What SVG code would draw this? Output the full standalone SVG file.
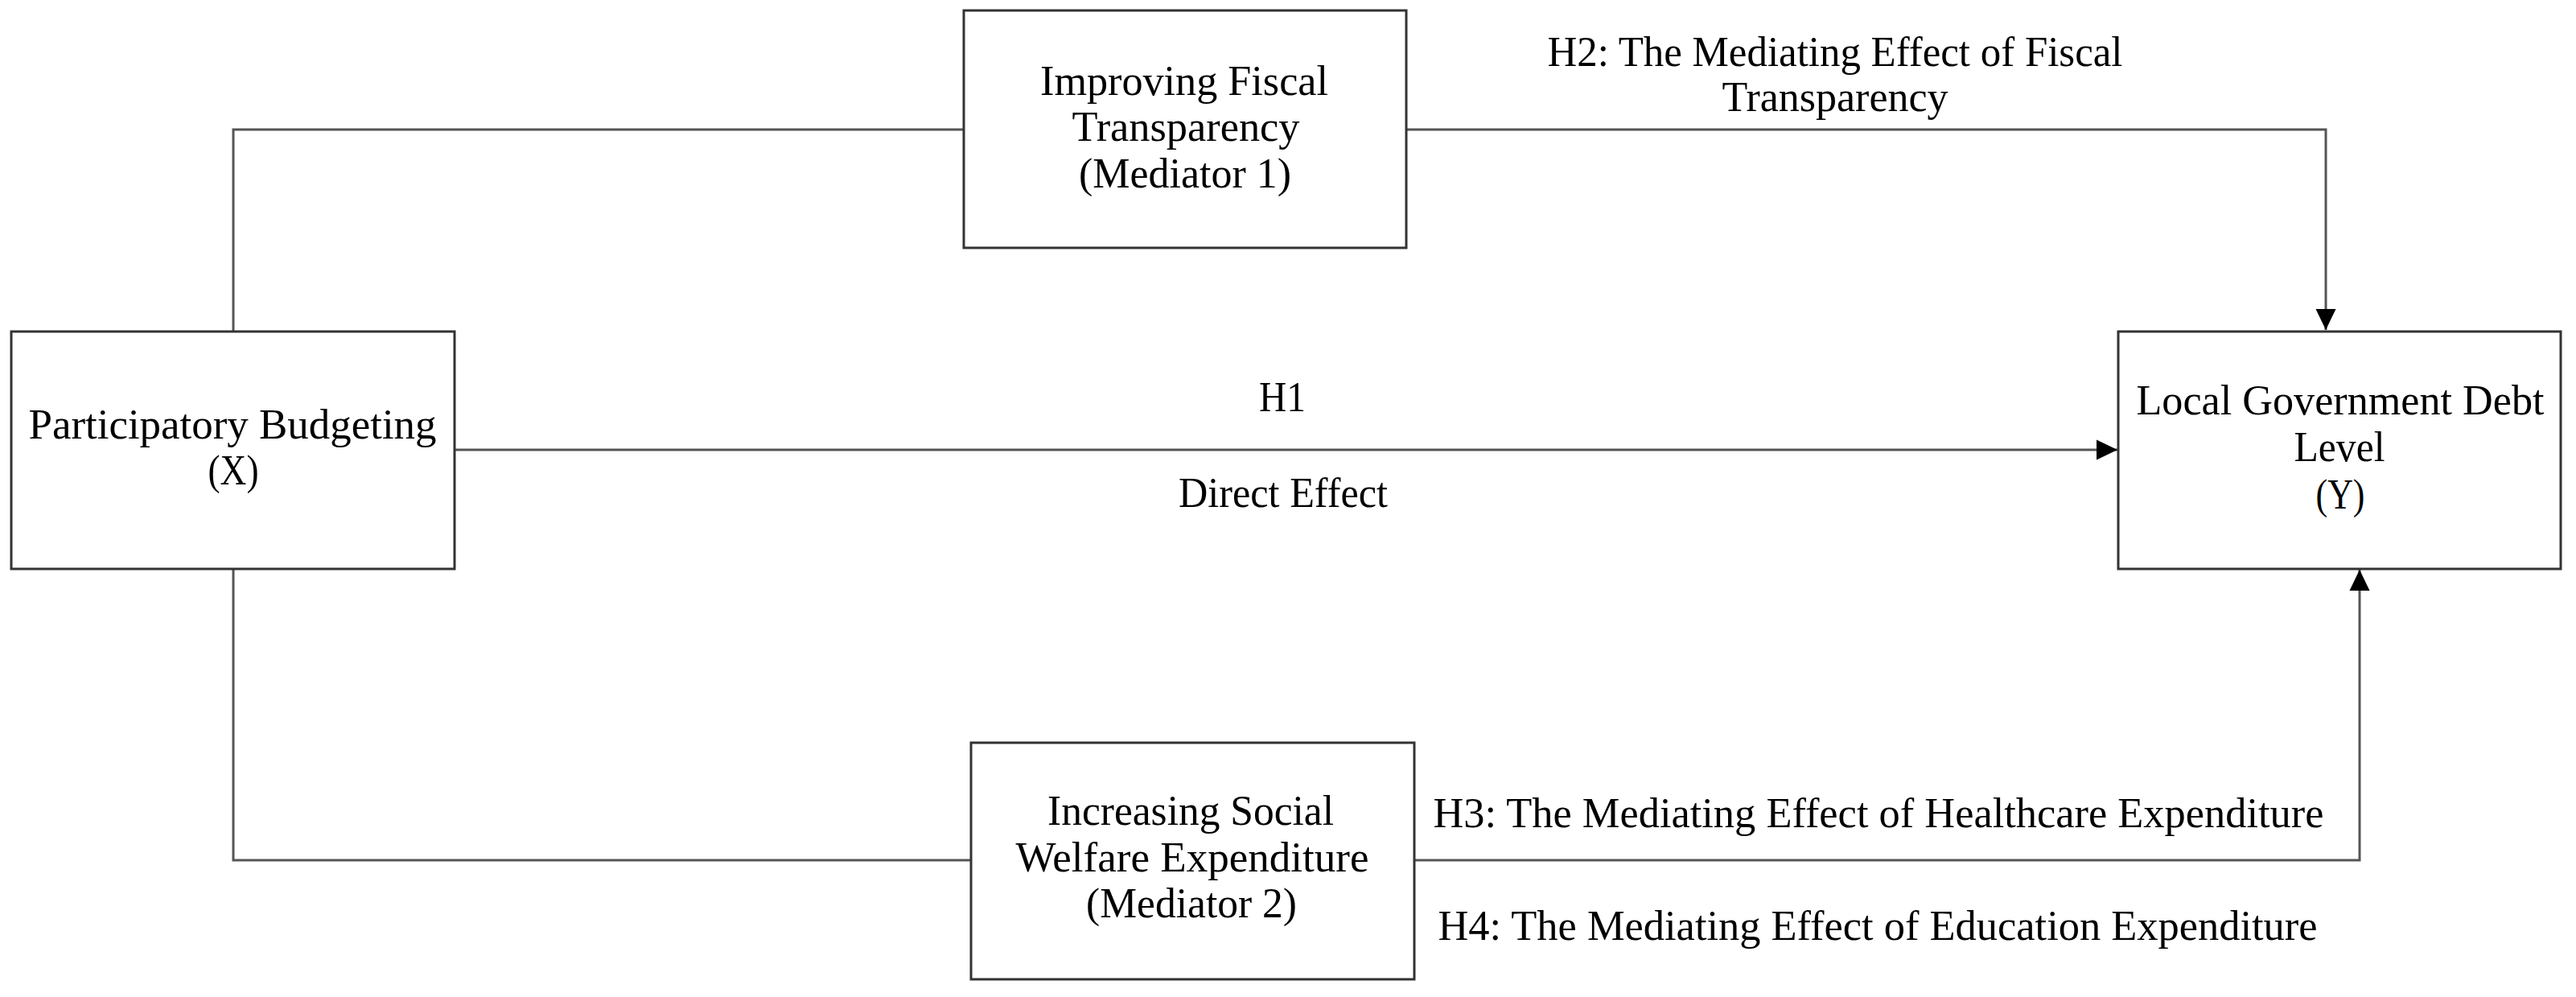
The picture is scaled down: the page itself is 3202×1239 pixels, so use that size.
<svg xmlns="http://www.w3.org/2000/svg" width="3202" height="1239" viewBox="0 0 3202 1239">
<style>
.box{fill:#fff;stroke:#333;stroke-width:3}
.conn{fill:none;stroke:#555;stroke-width:3}
text{font-family:"Liberation Serif","Times New Roman",serif;font-size:52px;fill:#000;text-anchor:middle}
</style>
<defs>
<marker id="arr" markerUnits="userSpaceOnUse" markerWidth="26" markerHeight="26" refX="26" refY="12.5" orient="auto" viewBox="0 0 26 25">
<path d="M0,0 L26,12.5 L0,25 z" fill="#000"/>
</marker>
</defs>
<rect width="3202" height="1239" fill="#fff"/>
<g id="connectors">
<path class="conn" d="M290,412 V161 H1198"/>
<path class="conn" d="M1748,161 H2891 V410" marker-end="url(#arr)"/>
<path class="conn" d="M565,559 H2632" marker-end="url(#arr)"/>
<path class="conn" d="M290,707 V1069 H1207"/>
<path class="conn" d="M1758,1069 H2933 V708" marker-end="url(#arr)"/>
<text x="1594" y="511" textLength="58" lengthAdjust="spacingAndGlyphs">H1</text>
<text x="1595" y="630" textLength="260" lengthAdjust="spacingAndGlyphs">Direct Effect</text>
<text x="2281" y="82" textLength="715" lengthAdjust="spacingAndGlyphs">H2: The Mediating Effect of Fiscal</text>
<text x="2281" y="138" textLength="281" lengthAdjust="spacingAndGlyphs">Transparency</text>
<text x="2335" y="1028" textLength="1107" lengthAdjust="spacingAndGlyphs">H3: The Mediating Effect of Healthcare Expenditure</text>
<text x="2334" y="1168" textLength="1093" lengthAdjust="spacingAndGlyphs">H4: The Mediating Effect of Education Expenditure</text>
</g>
<g id="node-x">
<rect class="box" x="14" y="412" width="551" height="295"/>
<text x="289" y="545" textLength="507" lengthAdjust="spacingAndGlyphs">Participatory Budgeting</text>
<text x="290" y="602" textLength="63" lengthAdjust="spacingAndGlyphs">(X)</text>
</g>
<g id="node-m1">
<rect class="box" x="1198" y="13" width="550" height="295"/>
<text x="1472" y="118" textLength="358" lengthAdjust="spacingAndGlyphs">Improving Fiscal</text>
<text x="1474" y="175" textLength="283" lengthAdjust="spacingAndGlyphs">Transparency</text>
<text x="1473" y="233" textLength="264" lengthAdjust="spacingAndGlyphs">(Mediator 1)</text>
</g>
<g id="node-y">
<rect class="box" x="2633" y="412" width="550" height="295"/>
<text x="2909" y="515" textLength="507" lengthAdjust="spacingAndGlyphs">Local Government Debt</text>
<text x="2908" y="573" textLength="113" lengthAdjust="spacingAndGlyphs">Level</text>
<text x="2909" y="632" textLength="61" lengthAdjust="spacingAndGlyphs">(Y)</text>
</g>
<g id="node-m2">
<rect class="box" x="1207" y="923" width="551" height="294"/>
<text x="1480" y="1025" textLength="356" lengthAdjust="spacingAndGlyphs">Increasing Social</text>
<text x="1482" y="1083" textLength="439" lengthAdjust="spacingAndGlyphs">Welfare Expenditure</text>
<text x="1481" y="1140" textLength="262" lengthAdjust="spacingAndGlyphs">(Mediator 2)</text>
</g>
</svg>
